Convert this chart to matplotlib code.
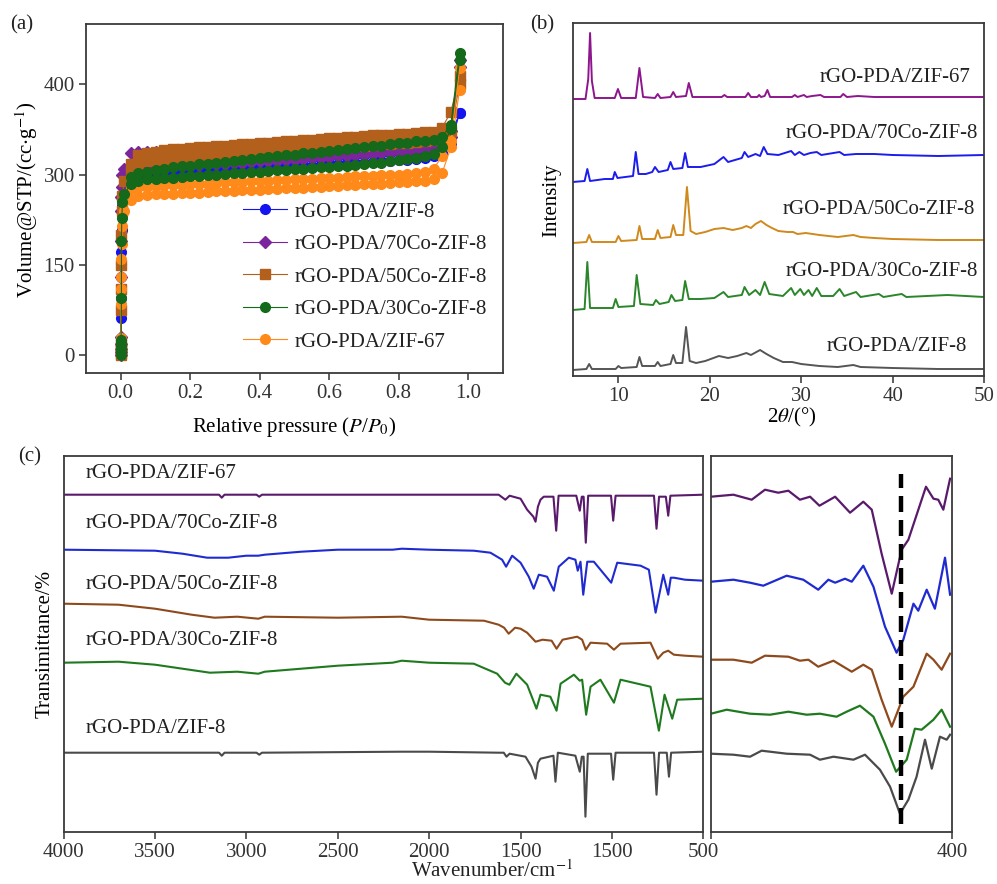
import numpy as np
import matplotlib as mpl
mpl.use('Agg')
import matplotlib.pyplot as plt

plt.rcParams['font.family'] = ['Liberation Serif', 'DejaVu Serif']
plt.rcParams['mathtext.fontset'] = 'stix'
plt.rcParams['font.size'] = 15
plt.rcParams['text.color'] = '#222222'
plt.rcParams['xtick.color'] = '#333333'
plt.rcParams['ytick.color'] = '#333333'

names = ['rGO-PDA/ZIF-8', 'rGO-PDA/70Co-ZIF-8', 'rGO-PDA/50Co-ZIF-8',
         'rGO-PDA/30Co-ZIF-8', 'rGO-PDA/ZIF-67']

# ---------------- (a) N2 isotherms ----------------
p_ads = [0.0, 0.0, 0.0, 0.0, 0.0, 0.001, 0.001, 0.002, 0.002, 0.003, 0.005,
         0.01, 0.03,
         0.05, 0.075, 0.1, 0.125, 0.15, 0.175, 0.2, 0.225, 0.25, 0.275,
         0.3, 0.325, 0.35, 0.375, 0.4, 0.425, 0.45, 0.475, 0.5, 0.525,
         0.55, 0.575, 0.6, 0.625, 0.65, 0.675, 0.7, 0.725, 0.75, 0.775,
         0.8, 0.825, 0.85, 0.875, 0.9,
         0.925, 0.95, 0.975]
p_des = [0.975, 0.95, 0.925,
         0.9, 0.875, 0.85, 0.825, 0.8, 0.775, 0.75, 0.725, 0.7, 0.675,
         0.65, 0.625, 0.6, 0.575, 0.55, 0.525, 0.5, 0.475, 0.45, 0.425,
         0.4, 0.375, 0.35, 0.325, 0.3, 0.275, 0.25, 0.225, 0.2, 0.175,
         0.15, 0.125, 0.1, 0.075, 0.05,
         0.03]

zif8_ads = [2, 8, 15, 25, 62, 95, 130, 152, 172, 208, 248,
            272, 288,
            296, 298, 299, 300, 301, 302, 303, 304, 305, 306,
            307, 307, 308, 309, 310, 311, 312, 312, 313, 314,
            315, 316, 317, 318, 319, 320, 320, 321, 322, 323,
            324, 325, 326, 328, 330,
            336, 350, 403]
zif8_des = [403, 363, 346,
            341, 340, 339, 338, 337, 336, 335, 334, 333, 332,
            331, 330, 329, 328, 327, 326, 325, 324, 323, 322,
            321, 320, 319, 318, 317, 316, 315, 314, 313, 312,
            311, 310, 309, 308, 306,
            302]
co70_ads = [0, 5, 10, 18, 30, 130, 190, 240, 262, 280, 300,
            310, 312,
            313, 313, 314, 314, 315, 315, 316, 316, 317, 318,
            318, 319, 320, 321, 322, 322, 323, 324, 325, 326,
            327, 328, 329, 330, 331, 332, 333, 334, 335, 336,
            337, 338, 340, 341, 343,
            350, 362, 478]
co70_des = [490, 372, 367,
            365, 364, 363, 362, 361, 360, 359, 358, 357, 356,
            355, 354, 353, 352, 351, 350, 349, 348, 347, 346,
            346, 345, 344, 343, 343, 342, 341, 341, 340, 340,
            339, 339, 338, 337, 337,
            335]
co50_ads = [0, 4, 8, 14, 22, 75, 110, 150, 200, 240, 265,
            290, 305,
            318, 322, 324, 325, 326, 327, 328, 329, 330, 331,
            332, 333, 334, 335, 336, 337, 338, 339, 340, 341,
            342, 343, 344, 345, 346, 347, 348, 349, 350, 351,
            352, 353, 354, 355, 357,
            362, 372, 450]
co50_des = [463, 404, 378,
            371, 370, 369, 368, 367, 366, 366, 365, 364, 363,
            362, 361, 360, 359, 358, 357, 356, 355, 354, 353,
            352, 351, 350, 349, 348, 347, 346, 345, 344, 343,
            342, 340, 338, 336, 332,
            318]
co30_ads = [0, 3, 6, 10, 15, 20, 25, 95, 190, 228, 255,
            268, 285,
            290, 292, 293, 294, 295, 296, 297, 298, 299, 300,
            301, 302, 303, 304, 305, 306, 307, 308, 309, 310,
            311, 312, 313, 314, 315, 316, 318, 319, 320, 322,
            324, 326, 328, 331, 334,
            346, 375, 490]
co30_des = [502, 383, 363,
            358, 356, 355, 353, 352, 350, 348, 347, 345, 344,
            342, 341, 339, 338, 336, 335, 333, 332, 330, 329,
            327, 326, 324, 323, 321, 320, 318, 317, 315, 314,
            312, 310, 308, 305, 302,
            296]
zif67_ads = [0, 5, 10, 18, 28, 85, 110, 130, 160, 185, 215,
             240, 258,
             264, 266, 267, 268, 268, 269, 270, 270, 271, 272,
             272, 273, 274, 274, 275, 276, 276, 277, 278, 278,
             279, 280, 281, 281, 282, 283, 284, 285, 285, 286,
             287, 288, 289, 290, 292,
             303, 345, 440]
zif67_des = [477, 355, 330,
             310, 304, 302, 301, 300, 299, 299, 298, 297, 297,
             296, 295, 295, 294, 293, 293, 292, 291, 291, 290,
             289, 289, 288, 287, 287, 286, 285, 285, 284, 283,
             283, 282, 281, 280, 279,
             276]

iso_yticks = [0, 150, 300, 450]
iso_yticklabels = ['0', '150', '300', '400']

# ---------------- (b) XRD ----------------
xrd_offsets = [6, 66, 133, 194, 277]  # ZIF-8, 30Co, 50Co, 70Co, ZIF-67

xrd_zif8_x = [5.0, 6.5, 6.8, 7.1, 9.7, 10.0, 10.3, 12.0, 12.3, 12.6, 14.0, 14.3, 14.6,
              15.7, 16.0, 16.3, 17.0, 17.4, 17.8, 18.5, 19.5, 21.0, 22.0, 23.0, 24.0,
              24.5, 25.5, 26.2, 27.0, 28.0, 29.0, 30.0, 32.0, 34.0, 35.7, 36.5, 40.0,
              45.0, 50.0]
xrd_zif8_y = [0, 1, 6, 1, 1, 4, 2, 3, 13, 4, 4, 8, 4,
              6, 15, 7, 7, 43, 9, 7, 9, 14, 12, 14, 17,
              15, 20, 16, 12, 8, 8, 6, 4, 3, 5, 3, 2,
              1, 1]

xrd_co30_x = [5.0, 6.3, 6.6, 6.9, 9.4, 9.7, 10.0, 11.7, 12.0, 12.4, 13.8, 14.1, 14.5,
              15.5, 15.8, 16.2, 17.0, 17.3, 17.7, 19.0, 20.5, 21.5, 22.0, 23.5, 23.8,
              24.3, 25.0, 25.5, 26.0, 26.5, 28.0, 28.9, 29.3, 29.9, 30.3, 30.8, 31.2,
              31.7, 32.2, 33.5, 34.2, 34.7, 36.0, 36.5, 38.5, 39.0, 41.0, 41.5, 46.0,
              50.0]
xrd_co30_y = [0, 1, 48, 2, 2, 11, 3, 4, 35, 6, 5, 10, 6,
              8, 15, 9, 10, 29, 11, 11, 12, 18, 13, 15, 23,
              15, 20, 15, 28, 16, 14, 22, 15, 21, 15, 20, 14,
              22, 14, 14, 21, 14, 18, 13, 16, 13, 16, 13, 15,
              13]

xrd_co50_x = [5.0, 6.5, 6.8, 7.1, 9.7, 10.0, 10.3, 12.0, 12.3, 12.6, 14.0, 14.3, 14.6,
              15.7, 16.0, 16.3, 17.1, 17.5, 17.9, 18.5, 19.5, 20.5, 21.5, 22.5, 23.5,
              24.0, 24.5, 25.0, 25.6, 26.2, 26.8, 27.5, 28.5, 29.1, 29.6, 30.5, 32.0,
              34.0, 35.7, 36.5, 38.0, 40.0, 45.0, 50.0]
xrd_co50_y = [0, 1, 8, 1, 1, 7, 2, 3, 17, 4, 4, 13, 5,
              6, 18, 8, 8, 56, 12, 9, 11, 14, 15, 13, 15,
              17, 15, 19, 22, 18, 15, 12, 11, 11, 9, 10, 8,
              6, 8, 6, 5, 4, 3, 3]

xrd_co70_x = [5.0, 6.3, 6.6, 6.9, 8.5, 9.4, 9.6, 9.9, 11.6, 11.9, 12.2, 13.0, 13.7,
              14.0, 14.4, 15.4, 15.7, 16.0, 17.0, 17.3, 17.6, 19.0, 20.5, 21.5, 22.0,
              23.5, 23.8, 24.2, 25.0, 25.5, 25.9, 26.3, 27.5, 28.9, 29.3, 29.8, 30.3,
              31.0, 31.7, 32.2, 34.2, 34.7, 36.0, 38.0, 40.0, 45.0, 50.0]
xrd_co70_y = [0, 1, 13, 1, 3, 3, 10, 4, 6, 30, 8, 8, 10,
              15, 10, 12, 20, 13, 14, 29, 15, 15, 18, 25, 20,
              24, 30, 25, 28, 26, 35, 28, 27, 31, 27, 30, 27,
              29, 30, 27, 30, 27, 28, 28, 27, 26, 27]

xrd_zif67_x = [5.0, 6.4, 6.7, 6.9, 7.1, 7.4, 9.6, 9.95, 10.3, 11.9, 12.3, 12.7, 14.0,
               14.3, 14.6, 15.7, 16.0, 16.3, 17.4, 17.7, 18.1, 19.0, 21.3, 21.6, 21.9,
               23.9, 24.2, 24.5, 25.2, 25.4, 25.6, 26.0, 26.3, 26.6, 29.0, 29.3, 29.6,
               30.3, 30.6, 31.2, 32.1, 32.5, 34.3, 34.6, 35.0, 36.2, 38.0, 50.0]
xrd_zif67_y = [0, 0, 20, 66, 18, 1, 1, 10, 1, 1, 31, 2, 1,
               5, 1, 2, 7, 2, 3, 16, 2, 2, 2, 4, 2,
               2, 6, 2, 2, 4, 2, 3, 9, 2, 2, 4, 2,
               4, 2, 3, 4, 2, 2, 5, 2, 3, 2, 2]

# ---------------- (c) FTIR ----------------
ir_offsets = [79, 169, 228, 282, 337]  # ZIF-8, 30Co, 50Co, 70Co, ZIF-67

ir_zif8_x = [4000, 3150, 3135, 3120, 2945, 2930, 2915, 2150, 2000, 1620, 1592, 1577, 1560,
             1473, 1440, 1418, 1405, 1391, 1320, 1309, 1296, 1200, 1176, 1165, 1155,
             1145, 1132, 1005, 993, 980, 770, 756, 742, 700, 688, 676, 500]
ir_zif8_y = [0, 0, -3, 0, 0, -2, 0, 1, 1, 0, 0, -4, -1,
             -4, -14, -26, -10, -6, -3, -29, 0, -3, -19, -4, -4,
             -64, -1, -1, -27, 0, 0, -42, 0, 0, -24, 0, 1]

ir_co30_x = [4000, 3700, 3500, 3350, 3200, 3050, 2935, 2900, 2700, 2500, 2200, 2150, 2000,
             1756, 1628, 1585, 1561, 1523, 1464, 1413, 1391, 1337, 1303, 1281, 1208,
             1176, 1163, 1141, 1117, 1063, 989, 953, 789, 743, 712, 670, 643, 500]
ir_co30_y = [0, 1, -2, -6, -10, -9, -11, -9, -6, -3, 0, 2, 0,
             -1, -11, -20, -22, -11, -22, -46, -32, -34, -48, -21, -12,
             -18, -17, -52, -24, -17, -40, -17, -24, -68, -32, -56, -37, -36]

ir_co50_x = [4000, 3700, 3500, 3300, 3175, 3050, 2935, 2900, 2500, 2150, 2000, 1700, 1620,
             1590, 1565, 1530, 1500, 1464, 1418, 1380, 1330, 1303, 1270, 1190, 1163,
             1143, 1117, 1026, 989, 953, 789, 749, 719, 692, 661, 600, 500]
ir_co50_y = [0, -1, -5, -11, -14, -13, -15, -13, -14, -13, -16, -17, -21,
             -24, -30, -24, -25, -29, -38, -36, -37, -45, -36, -33, -36,
             -46, -39, -40, -46, -40, -39, -55, -49, -47, -51, -52, -53]

ir_co70_x = [4000, 3500, 3350, 3215, 3100, 3000, 2935, 2900, 2700, 2500, 2200, 2150, 2000,
             1756, 1665, 1601, 1579, 1546, 1500, 1455, 1428, 1400, 1355, 1318, 1291,
             1236, 1200, 1187, 1172, 1157, 1135, 1099, 1004, 971, 843, 798, 761,
             719, 692, 678, 661, 600, 500]
ir_co70_y = [0, -1, -4, -8, -8, -6, -6, -5, -2, 0, 0, 1, 0,
             -1, -3, -10, -17, -6, -13, -27, -39, -25, -27, -41, -17,
             -8, -10, -21, -12, -45, -12, -12, -33, -13, -16, -20, -63,
             -25, -45, -28, -28, -30, -31]

ir_zif67_x = [4000, 3150, 3135, 3120, 2945, 2930, 2915, 1620, 1583, 1560, 1500, 1464, 1430,
              1418, 1405, 1391, 1373, 1320, 1305, 1292, 1195, 1176, 1165, 1155, 1143,
              1130, 1005, 993, 980, 770, 756, 742, 705, 692, 680, 500]
ir_zif67_y = [0, 0, -3, 0, 0, -2, 0, 0, -5, -1, -4, -15, -22,
              -27, -12, -5, -2, -2, -36, -1, -1, -16, -2, -2, -48,
              -1, -1, -26, -1, -1, -34, -2, -2, -21, -1, 0]

# 500-400 cm-1 zoom
irz_zif8_x = [500, 490.7, 483.8, 479.0, 468.6, 458.9, 454.8, 449.2, 440.9, 436.1, 429.9,
              425.7, 421.6, 418.1, 414.7, 411.2, 408.4, 405.0, 402.2, 400.8]
irz_zif8_y = [-1, -2, -4, 2, -1, -2, -7, -4, -7, -2, -17,
              -34, -61, -47, -24, 13, -16, 16, 13, 18]
irz_co30_x = [500, 493.5, 483.8, 475.5, 467.9, 460.3, 454.8, 447.9, 443.7, 438.2, 432.6,
              427.8, 423.2, 418.8, 415.4, 412.6, 407.7, 404.3, 400.8]
irz_co30_y = [-51, -47, -51, -52, -49, -52, -51, -54, -49, -43, -54,
              -81, -109, -97, -66, -67, -57, -47, -64]
irz_co50_x = [500, 490.7, 483.1, 477.6, 467.9, 463.1, 459.6, 455.5, 449.2, 441.6, 436.8,
              433.3, 429.2, 425.0, 420.2, 416.0, 410.5, 407.7, 404.3, 400.8]
irz_co50_y = [-56, -56, -59, -52, -53, -57, -56, -63, -57, -68, -61,
              -66, -96, -123, -93, -83, -50, -56, -66, -50]
irz_co70_x = [500, 490.7, 483.8, 478.3, 468.6, 461.7, 455.5, 451.3, 448.5, 444.4, 441.6,
              436.8, 432.6, 427.8, 423.0, 420.2, 416.0, 414.0, 410.5, 407.1, 402.9, 400.8]
irz_co70_y = [-32, -30, -33, -36, -26, -30, -40, -30, -33, -29, -32,
              -16, -37, -77, -103, -90, -54, -61, -40, -59, -8, -45]
irz_zif67_x = [500, 490.7, 483.1, 477.6, 472.1, 467.9, 463.1, 458.9, 455.0, 448.5, 442.3,
               436.8, 433.3, 429.2, 425.0, 420.9, 418.1, 410.8, 407.7, 405.7, 403.6, 400.8]
irz_zif67_y = [-2, 0, -5, 5, 2, 4, -5, -2, -11, -2, -18,
               -7, -15, -59, -99, -55, -45, 8, -4, -5, -15, 16]
mark_wn = 421

# ---------------- figure ----------------
W, H = 997, 884
fig = plt.figure(figsize=(W / 100, H / 100), dpi=100)


def px_axes(l, t, r, b):
    return fig.add_axes([l / W, 1 - b / H, (r - l) / W, (b - t) / H])


def style(ax):
    for s in ax.spines.values():
        s.set_color('#3a3a3a')
        s.set_linewidth(1.3)
    ax.tick_params(direction='out', length=5, width=1.1, pad=3, labelsize=15)


# (a)
axa = px_axes(86, 24, 503, 373.3)
style(axa)
iso = [
    (names[0], '#1414f0', 'o', 7.0, zif8_ads, zif8_des),
    (names[1], '#7a259c', 'D', 6.0, co70_ads, co70_des),
    (names[2], '#b2601c', 's', 6.5, co50_ads, co50_des),
    (names[4], '#ff8a1a', 'o', 7.0, zif67_ads, zif67_des),
    (names[3], '#15691a', 'o', 7.0, co30_ads, co30_des),
]
handles = {}
for name, c, m, ms, ads, des in iso:
    h, = axa.plot(p_ads, ads, color=c, marker=m, ms=ms, mec=c, lw=0.8, label=name)
    axa.plot(p_des, des, color=c, marker=m, ms=ms, mec=c, lw=0.8)
    handles[name] = h
axa.set_xlim(-0.1, 1.1)
axa.set_ylim(-30, 550)
axa.set_xticks([0.0, 0.2, 0.4, 0.6, 0.8, 1.0])
axa.set_yticks(iso_yticks)
axa.set_yticklabels(iso_yticklabels)
axa.set_xlabel(r'Relative pressure ($P$/$P_0$)')
axa.xaxis.set_label_coords(0.5, -0.154)
axa.xaxis.label.set_va('center')
axa.set_ylabel(r'Volume@STP/(cc$\cdot$g$^{-1}$)', va='center')
axa.yaxis.set_label_coords(-0.1415, 0.496)
axa.legend([handles[n] for n in names], names, loc='upper left',
           bbox_to_anchor=(0.376, 0.49), frameon=False, handlelength=2.1,
           handletextpad=0.4, labelspacing=0.62, borderpad=0, borderaxespad=0,
           fontsize=15)

# (b)
axb = px_axes(572.7, 22.7, 984, 376)
style(axb)
xrd = [
    (xrd_zif8_x, xrd_zif8_y, '#555555'),
    (xrd_co30_x, xrd_co30_y, '#2b862b'),
    (xrd_co50_x, xrd_co50_y, '#d0891c'),
    (xrd_co70_x, xrd_co70_y, '#1c1ced'),
    (xrd_zif67_x, xrd_zif67_y, '#8d168d'),
]
for (x, y, c), off in zip(xrd, xrd_offsets):
    axb.plot(x, np.array(y) + off, color=c, lw=1.4)
axb.set_xlim(5, 50)
axb.set_ylim(0, 353.3)
axb.set_yticks([])
axb.set_xticks([10, 20, 30, 40, 50])
axb.set_xlabel(r'2$\theta$/(°)')
axb.xaxis.set_label_coords(0.533, -0.118)
axb.xaxis.label.set_va('center')
axb.set_ylabel('Intensity', va='center')
axb.yaxis.set_label_coords(-0.051, 0.498)
xrd_label_pos = [(0.958, 0.083), (0.985, 0.295), (0.978, 0.47), (0.985, 0.687), (0.968, 0.8455)]
xrd_label_names = [names[0], names[3], names[2], names[1], names[4]]
for (lx, ly), n in zip(xrd_label_pos, xrd_label_names):
    axb.text(lx, ly, n, transform=axb.transAxes, ha='right', va='center', fontsize=15)

# (c)
axc = px_axes(63.7, 456, 703.3, 831.7)
axz = px_axes(711, 456, 952, 831.7)
style(axc)
style(axz)
ir_colors = ['#4a4a4a', '#1f7a1f', '#8e4a1c', '#1f2bd1', '#5a1a6b']
ir = [(ir_zif8_x, ir_zif8_y), (ir_co30_x, ir_co30_y), (ir_co50_x, ir_co50_y),
      (ir_co70_x, ir_co70_y), (ir_zif67_x, ir_zif67_y)]
irz = [(irz_zif8_x, irz_zif8_y), (irz_co30_x, irz_co30_y), (irz_co50_x, irz_co50_y),
       (irz_co70_x, irz_co70_y), (irz_zif67_x, irz_zif67_y)]
for (x, y), (xz, yz), c, off in zip(ir, irz, ir_colors, ir_offsets):
    axc.plot(x, np.array(y) + off, color=c, lw=1.5)
    axz.plot(xz, np.array(yz) + off, color=c, lw=1.6)
axc.set_xlim(4000, 500)
axc.set_ylim(0, 375.7)
axc.set_yticks([])
axc.set_xticks([4000, 3500, 3000, 2500, 2000, 1500, 1000, 500])
axc.set_xticklabels(['4000', '3500', '3000', '2500', '2000', '1500', '1500', '500'])
axc.set_ylabel('Transimittance/%', va='center')
axc.yaxis.set_label_coords(-0.029, 0.5)
ir_label_y = [0.276, 0.510, 0.657, 0.821, 0.954]
ir_label_names = [names[0], names[3], names[2], names[1], names[4]]
for ly, n in zip(ir_label_y, ir_label_names):
    axc.text(0.035, ly, n, transform=axc.transAxes, ha='left', va='center', fontsize=15)

axz.set_xlim(500, 400)
axz.set_ylim(0, 375.7)
axz.set_yticks([])
axz.set_xticks([500, 400])
axz.set_xticklabels(['', '400'])
axz.plot([mark_wn, mark_wn], [8, 358], color='black', lw=3.2, ls=(0, (3.6, 1.8)))

fig.text(492 / W, 1 - 871 / H, r'Wavenumber/cm$^{-1}$', ha='center', va='center', fontsize=15)
fig.text(22 / W, 1 - 25 / H, '(a)', ha='center', va='center', fontsize=15)
fig.text(541.7 / W, 1 - 25 / H, '(b)', ha='center', va='center', fontsize=15)
fig.text(30 / W, 1 - 457 / H, '(c)', ha='center', va='center', fontsize=15)

fig.savefig('out.png', dpi=100)
